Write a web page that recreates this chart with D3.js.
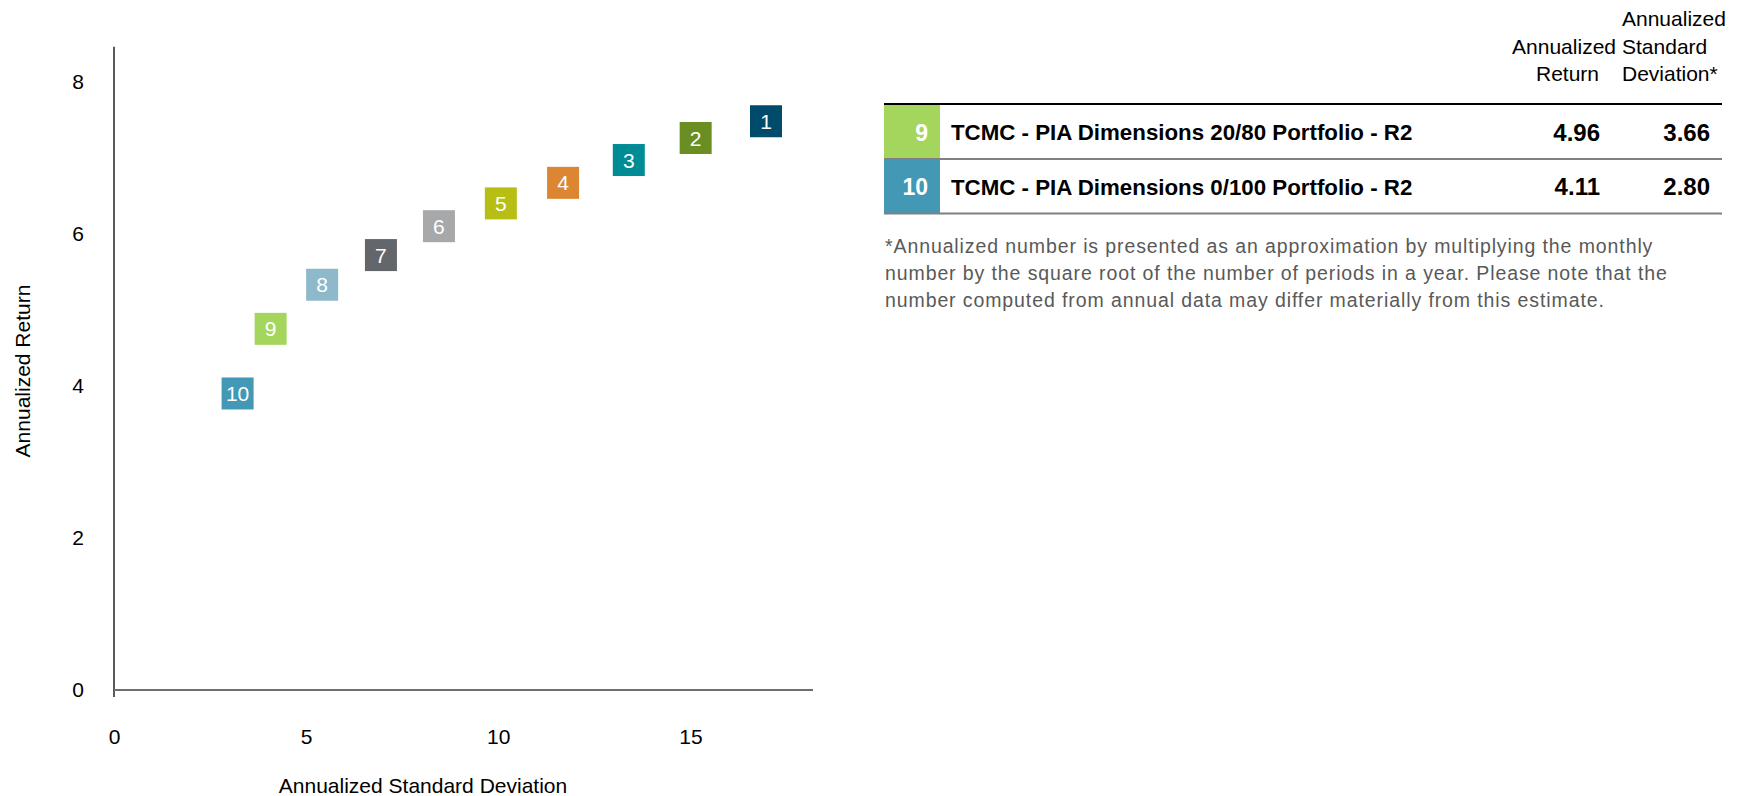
<!DOCTYPE html>
<html>
<head>
<meta charset="utf-8">
<script src="https://cdn.jsdelivr.net/npm/d3@7"></script>
<style>
  body { margin: 0; background: #fff; font-family: "Liberation Sans", Arial, sans-serif; }
  svg { display: block; }
</style>
</head>
<body>
<script>
//risk / return scatter with legend table

//chart data
var portfolioIds = [1, 2, 3, 4, 5, 6, 7, 8, 9, 10];
var stdDevValues = [16.55, 14.72, 12.98, 11.27, 9.65, 8.04, 6.53, 5.00, 3.66, 2.80];
var returnValues = [7.69, 7.47, 7.18, 6.88, 6.61, 6.31, 5.93, 5.54, 4.96, 4.11];
var markerColors = ["#004b6b", "#6b8e23", "#008c95", "#dc8633", "#b7bf14", "#a7a8aa", "#63666a", "#8db9ca", "#a4d65e", "#4298b5"];
var xTicks = [0, 5, 10, 15];
var yTicks = [0, 2, 4, 6, 8];

//table data
var tableIds = [9, 10];
var tableNames = ["TCMC - PIA Dimensions 20/80 Portfolio - R2", "TCMC - PIA Dimensions 0/100 Portfolio - R2"];
var tableReturns = ["4.96", "4.11"];
var tableStdDevs = ["3.66", "2.80"];
var footnoteLines = [
    "*Annualized number is presented as an approximation by multiplying the monthly",
    "number by the square root of the number of periods in a year. Please note that the",
    "number computed from annual data may differ materially from this estimate."
];

var width = 1747, height = 796;

var svg = d3.select("body")
    .append("svg")
    .attr("width", width)
    .attr("height", height);

//scales
var x = d3.scaleLinear().domain([0, 18.19]).range([114, 813]);
var y = d3.scaleLinear().domain([0, 8.46]).range([690, 46.7]);

var fontSize = 21;

//axes (labels only, lines drawn by hand)
var xAxis = svg.append("g")
    .attr("transform", "translate(0," + y(0) + ")")
    .call(d3.axisBottom(x).tickValues(xTicks).tickSize(0).tickPadding(39));
var yAxis = svg.append("g")
    .attr("transform", "translate(" + x(0) + ",0)")
    .call(d3.axisLeft(y).tickValues(yTicks).tickSize(0).tickPadding(30));

[xAxis, yAxis].forEach(function(ax){
    ax.select(".domain").remove();
    ax.selectAll("text")
        .style("font-family", "'Liberation Sans', Arial, sans-serif")
        .style("font-size", fontSize + "px")
        .attr("fill", "#000");
});

//axis lines
svg.append("line")
    .attr("x1", x(0)).attr("x2", x(0))
    .attr("y1", y.range()[1]).attr("y2", y(0) + 7)
    .attr("stroke", "#595959").attr("stroke-width", 2);
svg.append("line")
    .attr("x1", x(0)).attr("x2", x.range()[1])
    .attr("y1", y(0)).attr("y2", y(0))
    .attr("stroke", "#6e6e6e").attr("stroke-width", 2);

//axis titles
svg.append("text")
    .attr("x", 423).attr("y", 793)
    .attr("text-anchor", "middle")
    .style("font-size", fontSize + "px")
    .text("Annualized Standard Deviation");
svg.append("text")
    .attr("transform", "translate(30,371) rotate(-90)")
    .attr("text-anchor", "middle")
    .style("font-size", fontSize + "px")
    .text("Annualized Return");

//markers: the data point is the top-left corner of each square
var boxSize = 32;
var markers = svg.selectAll(".marker")
    .data(portfolioIds)
    .enter()
    .append("g")
    .attr("class", "marker")
    .attr("transform", function(d, i){
        return "translate(" + x(stdDevValues[i]) + "," + y(returnValues[i]) + ")";
    });
markers.append("rect")
    .attr("width", boxSize).attr("height", boxSize)
    .attr("fill", function(d, i){ return markerColors[i]; });
markers.append("text")
    .attr("x", boxSize / 2).attr("y", boxSize / 2)
    .attr("dy", "0.36em")
    .attr("text-anchor", "middle")
    .attr("fill", "#fff")
    .style("font-size", "21px")
    .text(function(d){ return d; });

//legend table
var tLeft = 884, tRight = 1722, tTop = 104, rowH = 54.5;
var head = svg.append("g").style("font-size", fontSize + "px");
head.append("text").attr("x", 1616).attr("y", 54).attr("text-anchor", "end").text("Annualized");
head.append("text").attr("x", 1599).attr("y", 81).attr("text-anchor", "end").text("Return");
head.append("text").attr("x", 1622).attr("y", 26).text("Annualized");
head.append("text").attr("x", 1622).attr("y", 54).text("Standard");
head.append("text").attr("x", 1622).attr("y", 81).text("Deviation*");

svg.append("line")
    .attr("x1", tLeft).attr("x2", tRight)
    .attr("y1", tTop).attr("y2", tTop)
    .attr("stroke", "#000").attr("stroke-width", 2);

var rows = svg.selectAll(".trow")
    .data(tableIds)
    .enter()
    .append("g")
    .attr("class", "trow")
    .attr("transform", function(d, i){ return "translate(0," + (tTop + 1 + i * rowH) + ")"; });
rows.append("rect")
    .attr("x", tLeft).attr("width", 56)
    .attr("height", rowH - 1)
    .attr("fill", function(d){ return markerColors[portfolioIds.indexOf(d)]; });
rows.append("line")
    .attr("x1", tLeft).attr("x2", tRight)
    .attr("y1", rowH - 0.5).attr("y2", rowH - 0.5)
    .attr("stroke", "#808080").attr("stroke-width", 2);
var rowText = rows.append("g")
    .style("font-size", "22px")
    .style("font-weight", "bold");
rowText.append("text")
    .attr("x", 928).attr("y", rowH / 2).attr("dy", "0.36em")
    .attr("text-anchor", "end").attr("fill", "#fff")
    .style("font-size", "23px")
    .text(function(d){ return d; });
rowText.append("text")
    .attr("x", 951).attr("y", rowH / 2).attr("dy", "0.36em")
    .style("font-size", "22.3px")
    .text(function(d, i){ return tableNames[i]; });
rowText.append("text")
    .attr("x", 1600).attr("y", rowH / 2).attr("dy", "0.36em")
    .attr("text-anchor", "end")
    .style("font-size", "24px")
    .text(function(d, i){ return tableReturns[i]; });
rowText.append("text")
    .attr("x", 1710).attr("y", rowH / 2).attr("dy", "0.36em")
    .attr("text-anchor", "end")
    .style("font-size", "24px")
    .text(function(d, i){ return tableStdDevs[i]; });

//footnote
svg.append("g")
    .selectAll("text")
    .data(footnoteLines)
    .enter()
    .append("text")
    .attr("x", 885)
    .attr("y", function(d, i){ return 253 + i * 26.8; })
    .attr("fill", "#595959")
    .style("font-size", "19.5px")
    .style("letter-spacing", "0.9px")
    .text(function(d){ return d; });
</script>
</body>
</html>
